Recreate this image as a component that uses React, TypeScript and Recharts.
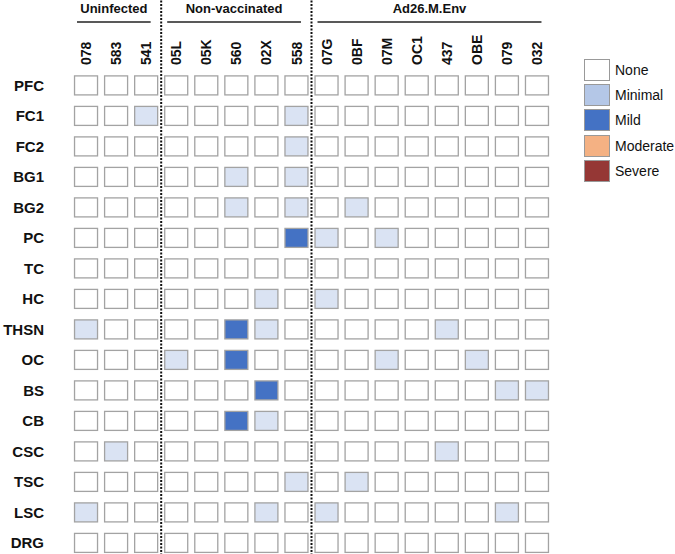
import React from 'react';
import { ScatterChart, Scatter, XAxis, YAxis, ReferenceLine, Legend } from 'recharts';

const columns = ['078', '583', '541', '05L', '05K', '560', '02X', '558', '07G', '0BF', '07M', 'OC1', '437', 'OBE', '079', '032'];
const regions = ['PFC', 'FC1', 'FC2', 'BG1', 'BG2', 'PC', 'TC', 'HC', 'THSN', 'OC', 'BS', 'CB', 'CSC', 'TSC', 'LSC', 'DRG'];

// 0 = None, 1 = Minimal, 2 = Mild, 3 = Moderate, 4 = Severe
const PFC = [0, 0, 0, 0, 0, 0, 0, 0, 0, 0, 0, 0, 0, 0, 0, 0];
const FC1 = [0, 0, 1, 0, 0, 0, 0, 1, 0, 0, 0, 0, 0, 0, 0, 0];
const FC2 = [0, 0, 0, 0, 0, 0, 0, 1, 0, 0, 0, 0, 0, 0, 0, 0];
const BG1 = [0, 0, 0, 0, 0, 1, 0, 1, 0, 0, 0, 0, 0, 0, 0, 0];
const BG2 = [0, 0, 0, 0, 0, 1, 0, 1, 0, 1, 0, 0, 0, 0, 0, 0];
const PC = [0, 0, 0, 0, 0, 0, 0, 2, 1, 0, 1, 0, 0, 0, 0, 0];
const TC = [0, 0, 0, 0, 0, 0, 0, 0, 0, 0, 0, 0, 0, 0, 0, 0];
const HC = [0, 0, 0, 0, 0, 0, 1, 0, 1, 0, 0, 0, 0, 0, 0, 0];
const THSN = [1, 0, 0, 0, 0, 2, 1, 0, 0, 0, 0, 0, 1, 0, 0, 0];
const OC = [0, 0, 0, 1, 0, 2, 0, 0, 0, 0, 1, 0, 0, 1, 0, 0];
const BS = [0, 0, 0, 0, 0, 0, 2, 0, 0, 0, 0, 0, 0, 0, 1, 1];
const CB = [0, 0, 0, 0, 0, 2, 1, 0, 0, 0, 0, 0, 0, 0, 0, 0];
const CSC = [0, 1, 0, 0, 0, 0, 0, 0, 0, 0, 0, 0, 1, 0, 0, 0];
const TSC = [0, 0, 0, 0, 0, 0, 0, 1, 0, 1, 0, 0, 0, 0, 0, 0];
const LSC = [1, 0, 0, 0, 0, 0, 1, 0, 1, 0, 0, 0, 0, 0, 1, 0];
const DRG = [0, 0, 0, 0, 0, 0, 0, 0, 0, 0, 0, 0, 0, 0, 0, 0];

const scoreRows = [PFC, FC1, FC2, BG1, BG2, PC, TC, HC, THSN, OC, BS, CB, CSC, TSC, LSC, DRG];

const severityLabels = ['None', 'Minimal', 'Mild', 'Moderate', 'Severe'];
const cellColors = ['#ffffff', '#dae3f3', '#4472c4', '#f4b183', '#953735'];
const legendColors = ['#ffffff', '#b4c7e7', '#4472c4', '#f4b183', '#953735'];

const groups = [
  { label: 'Uninfected', from: 0, to: 2 },
  { label: 'Non-vaccinated', from: 3, to: 7 },
  { label: 'Ad26.M.Env', from: 8, to: 15 },
];
const separators = [2.5, 7.5];

const data = scoreRows.flatMap((row, ri) =>
  row.map((score, ci) => ({ x: ci, y: ri, score }))
);

const FONT = '"Liberation Sans", Arial, Helvetica, sans-serif';

const CellShape = (props: any) => {
  const { cx, cy, payload } = props;
  const w = 23;
  const h = 19;
  return (
    <rect
      x={cx - w / 2}
      y={cy - h / 2}
      width={w}
      height={h}
      fill={cellColors[payload.score]}
      stroke="#a3a3a3"
      strokeWidth={1.3}
    />
  );
};

const ColTick = (props: any) => {
  const { x, payload } = props;
  const y = 65;
  return (
    <text
      x={x}
      y={y}
      dy="0.36em"
      transform={`rotate(-90 ${x} ${y})`}
      textAnchor="start"
      fontFamily={FONT}
      fontWeight="bold"
      fontSize={14}
      fill="#111"
    >
      {columns[payload.value]}
    </text>
  );
};

const RowTick = (props: any) => {
  const { y, payload } = props;
  return (
    <text
      x={44}
      y={y}
      dy="0.36em"
      textAnchor="end"
      fontFamily={FONT}
      fontWeight="bold"
      fontSize={15}
      fill="#111"
    >
      {regions[payload.value]}
    </text>
  );
};

const LegendContent = () => (
  <div style={{ fontFamily: FONT, fontSize: 14, color: '#111' }}>
    {severityLabels.map((lab, i) => (
      <div key={lab} style={{ display: 'flex', alignItems: 'center', height: 25.3 }}>
        <div
          style={{
            width: 24,
            height: 20,
            background: legendColors[i],
            border: '1px solid #999',
            marginRight: 5,
            flex: 'none',
          }}
        />
        <span>{lab}</span>
      </div>
    ))}
  </div>
);

export default function App() {
  const colTicks = columns.map((_, i) => i);
  const rowTicks = regions.map((_, i) => i);
  return (
    <div style={{ position: 'absolute', left: 0, top: 0, background: '#fff' }}>
      <ScatterChart
        width={675}
        height={554}
        margin={{ top: 1, right: 28, bottom: 5, left: 8 }}
      >
        <XAxis
          type="number"
          dataKey="x"
          orientation="top"
          domain={[-0.5, 15.5]}
          ticks={colTicks}
          interval={0}
          height={60}
          axisLine={false}
          tickLine={false}
          tick={<ColTick />}
        />
        <YAxis
          type="number"
          dataKey="y"
          domain={[-0.8, 15.2]}
          reversed
          ticks={rowTicks}
          interval={0}
          width={63}
          axisLine={false}
          tickLine={false}
          tick={<RowTick />}
        />
        {separators.map((s) => (
          <ReferenceLine
            key={s}
            segment={[{ x: s, y: -2.9 }, { x: s, y: 15.4 }]}
            ifOverflow="visible"
            stroke="#111"
            strokeWidth={2}
            strokeDasharray="2 1.5"
          />
        ))}
        {groups.map((g) => (
          <ReferenceLine
            key={g.label}
            segment={[{ x: g.from - 0.3, y: -2.08 }, { x: g.to + 0.15, y: -2.08 }]}
            ifOverflow="visible"
            stroke="#222"
            strokeWidth={1.5}
            label={{
              value: g.label,
              position: 'top',
              offset: 9,
              fill: '#111',
              fontSize: 13,
              fontWeight: 'bold',
              fontFamily: FONT,
            }}
          />
        ))}
        <Scatter data={data} shape={CellShape} isAnimationActive={false} />
        <Legend
          content={<LegendContent />}
          layout="vertical"
          align="right"
          verticalAlign="top"
          wrapperStyle={{ position: 'absolute', left: 584, top: 57, width: 95 }}
        />
      </ScatterChart>
    </div>
  );
}
